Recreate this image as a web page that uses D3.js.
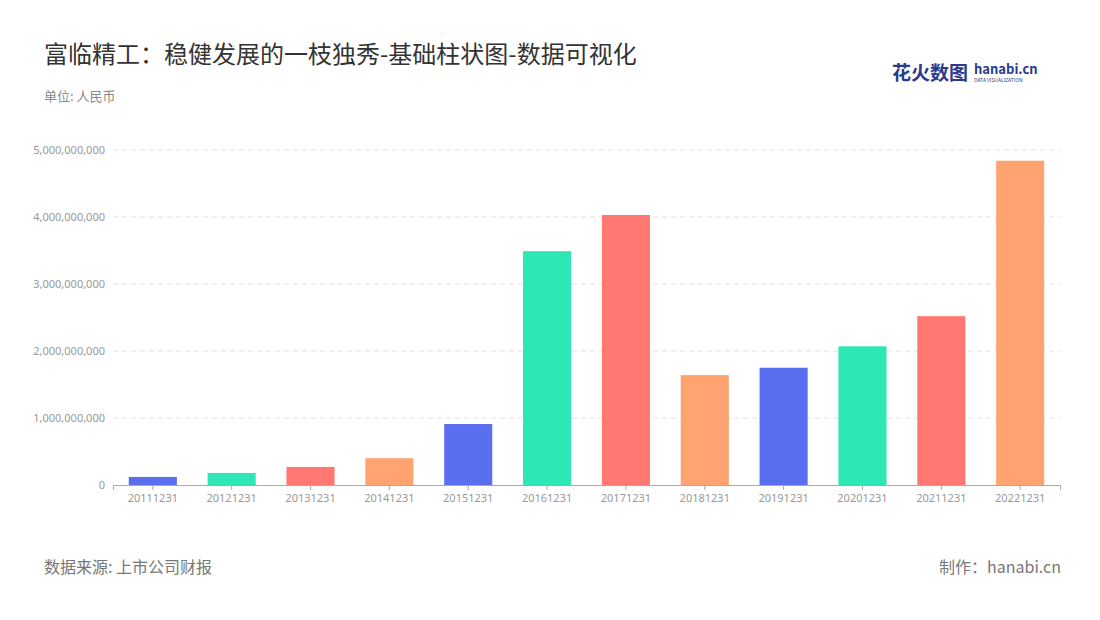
<!DOCTYPE html><html><head><meta charset="utf-8">
<script src="https://cdn.jsdelivr.net/npm/d3@7/dist/d3.min.js"></script>
<style>body{margin:0;background:#fff;font-family:"Noto Sans CJK SC","Noto Sans",sans-serif}</style></head><body>
<svg id="c" width="1100" height="620"></svg>
<script>
const categories=["20111231","20121231","20131231","20141231","20151231","20161231","20171231","20181231","20191231","20201231","20211231","20221231"];
const values=[120000000,180000000,270000000,400000000,910000000,3490000000,4030000000,1640000000,1750000000,2070000000,2520000000,4840000000];
const colors=["#5a6fef","#2de8b4","#ff7872","#ffa370"];
const yTicks=[0,1e9,2e9,3e9,4e9,5e9];
const svg=d3.select("#c");
svg.append("text").attr("x",44).attr("y",63).attr("font-size",24).attr("fill","#333").text("富临精工：稳健发展的一枝独秀-基础柱状图-数据可视化");
svg.append("text").attr("x",44).attr("y",101).attr("font-size",13).attr("fill","#888").text("单位: 人民币");
svg.append("text").attr("x",44).attr("y",573).attr("font-size",16).attr("fill","#777").text("数据来源: 上市公司财报");
svg.append("text").attr("x",1061).attr("y",573).attr("font-size",16).attr("fill","#777").attr("text-anchor","end").text("制作：hanabi.cn");
svg.append("text").attr("x",892).attr("y",80).attr("font-size",19).attr("font-weight","bold").attr("fill","#2a3a8c").text("花火数图");
svg.append("text").attr("x",974).attr("y",74).attr("font-size",13).attr("font-weight","bold").attr("fill","#2a3a8c").text("hanabi.cn");
svg.append("text").attr("x",974).attr("y",82).attr("font-size",5).attr("fill","#2a3a8c").text("DATA VISUALIZATION");
const x=d3.scaleBand().domain(categories).range([113,1060]).paddingInner(0.39).paddingOuter(0.2);
const y=d3.scaleLinear().domain([0,5e9]).range([485,150]);
const g=svg.append("g");
g.selectAll("line.g").data(yTicks.slice(1)).join("line").attr("x1",113).attr("x2",1060).attr("y1",d=>y(d)).attr("y2",d=>y(d)).attr("stroke","#e3e3e3").attr("stroke-dasharray","5,4");
g.selectAll("rect").data(values).join("rect").attr("x",(d,i)=>x(categories[i])).attr("width",x.bandwidth()).attr("y",d=>y(d)).attr("height",d=>485-y(d)).attr("fill",(d,i)=>colors[i%4]);
const ya=svg.append("g").attr("transform","translate(113,0)").call(d3.axisLeft(y).tickValues(yTicks).tickFormat(d3.format(",")).tickSize(0).tickPadding(8));
ya.select(".domain").remove();
ya.selectAll("text").attr("fill","#999").attr("font-size",11).attr("font-family","Noto Sans");
const xa=svg.append("g").attr("transform","translate(0,485)").call(d3.axisBottom(x).tickSize(5).tickPadding(4));
xa.select(".domain").attr("stroke","#aaa");
xa.selectAll("line").attr("stroke","#aaa");
xa.selectAll("text").attr("fill","#999").attr("font-size",11).attr("font-family","Noto Sans");
</script></body>
